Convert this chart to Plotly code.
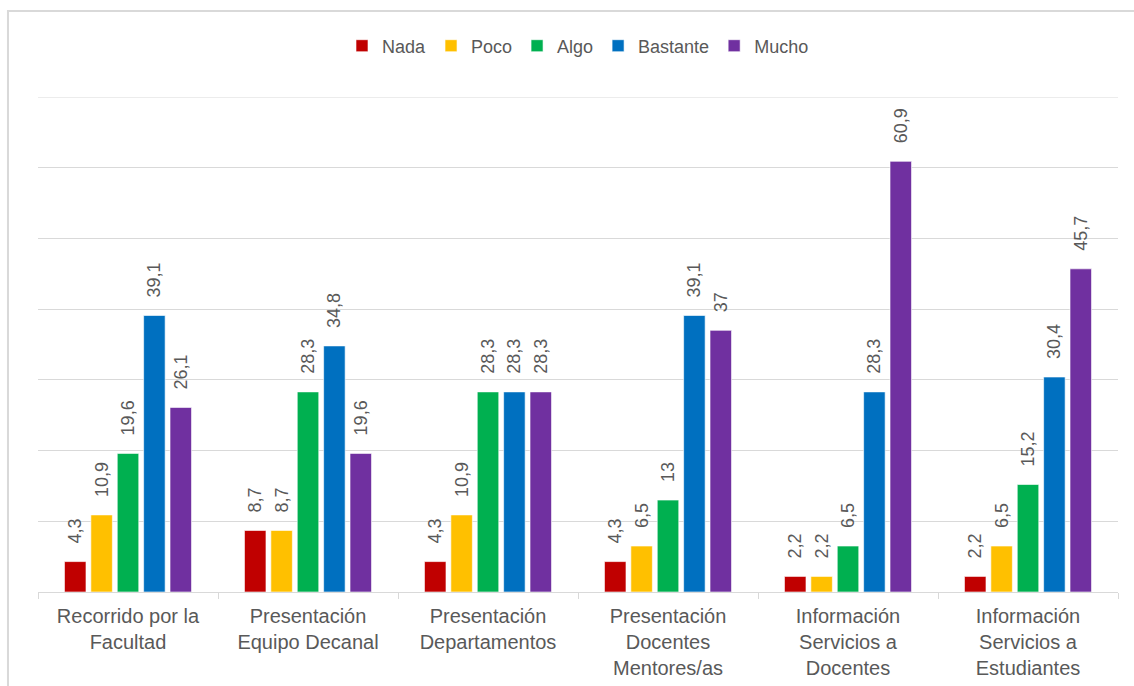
import plotly.graph_objects as go

# Categories (activities) and response levels
categories = [
    "Recorrido por la<br>Facultad",
    "Presentación<br>Equipo Decanal",
    "Presentación<br>Departamentos",
    "Presentación<br>Docentes<br>Mentores/as",
    "Información<br>Servicios a<br>Docentes",
    "Información<br>Servicios a<br>Estudiantes",
]

nada = [4.3, 8.7, 4.3, 4.3, 2.2, 2.2]
poco = [10.9, 8.7, 10.9, 6.5, 2.2, 6.5]
algo = [19.6, 28.3, 28.3, 13, 6.5, 15.2]
bastante = [39.1, 34.8, 28.3, 39.1, 28.3, 30.4]
mucho = [26.1, 19.6, 28.3, 37, 60.9, 45.7]

series = [
    ("Nada", nada, "#C00000"),
    ("Poco", poco, "#FFC000"),
    ("Algo", algo, "#00B050"),
    ("Bastante", bastante, "#0070C0"),
    ("Mucho", mucho, "#7030A0"),
]

Y_MAX = 70

TEXT = "#595959"
GRID = "#d9d9d9"
FONT = "Arial, Liberation Sans, sans-serif"


def fmt(v):
    # decimal comma, padded so the label sits clear of the bar top
    return "\u00a0\u00a0\u00a0" + f"{v:g}".replace(".", ",")


fig = go.Figure()
for name, vals, color in series:
    fig.add_trace(go.Bar(
        name=name,
        x=categories,
        y=vals,
        marker=dict(color=color, line=dict(color="white", width=0.6)),
        text=[fmt(v) for v in vals],
        textposition="outside",
        textangle=-90,
        constraintext="none",
        cliponaxis=False,
        textfont=dict(family=FONT, size=18, color=TEXT),
    ))

fig.update_layout(
    width=1134,
    height=686,
    margin=dict(l=38, r=16, t=97, b=94),
    paper_bgcolor="white",
    plot_bgcolor="white",
    barmode="group",
    bargap=0.267,
    bargroupgap=0.185,
    font=dict(family=FONT, color=TEXT),
    legend=dict(
        orientation="h",
        x=0.5, xanchor="center",
        y=1.103, yanchor="middle",
        font=dict(family=FONT, size=18, color=TEXT),
        itemwidth=30,
        traceorder="normal",
    ),
    uniformtext=dict(mode=False),
    shapes=[
        # outer chart frame
        dict(
            type="rect", xref="paper", yref="paper",
            x0=-0.0278, x1=1.2, y0=-0.5, y1=1.1737,
            line=dict(color=GRID, width=2),
            layer="below",
        ),
        # top gridline at the axis maximum
        dict(
            type="line", xref="paper", yref="y",
            x0=0, x1=1, y0=Y_MAX, y1=Y_MAX,
            line=dict(color=GRID, width=1),
            layer="below",
        ),
    ],
)

fig.update_xaxes(
    automargin=False,
    showline=True, linecolor=GRID, linewidth=1,
    ticks="outside", tickson="boundaries", tickcolor=GRID, ticklen=6,
    ticklabelstandoff=6,
    tickfont=dict(family=FONT, size=20, color=TEXT),
    showgrid=False,
)
fig.update_yaxes(
    range=[0, Y_MAX], dtick=10,
    showticklabels=False, showgrid=True, gridcolor=GRID, gridwidth=1,
    zeroline=False, ticks="",
)

fig.write_html("out.html")
